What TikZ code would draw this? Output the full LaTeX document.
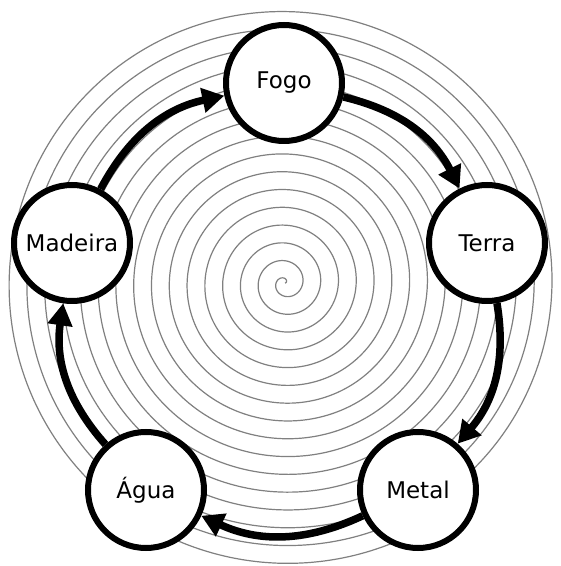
\documentclass[tikz,border=0pt]{standalone}
\usepackage{fontspec}
\setmainfont{DejaVu Sans}
\usetikzlibrary{arrows.meta}
\definecolor{ink}{HTML}{000000}
\definecolor{spiralgray}{HTML}{808080}
\definecolor{paper}{HTML}{FFFFFF}

\begin{document}
\begin{tikzpicture}[x=1pt,y=1pt,
    element/.style={circle,draw=ink,fill=paper,line width=6pt,minimum size=116pt,
      inner sep=0pt,font=\fontsize{23}{26}\selectfont},
    cyclearrow/.style={draw=ink,line width=7.5pt,-{Triangle[length=22pt,width=24pt]},bend left=25}]
  \useasboundingbox[fill=paper] (0,0) rectangle (561,566);

  % spiral in the background
  \begin{scope}
    \clip (0,0) rectangle (561,566);
    \draw[spiralgray,line width=1.2pt]
      plot[domain=0:5700,samples=1800,smooth] ({285+cos(\x)*\x/360*17.8},{283+sin(\x)*\x/360*17.8});
  \end{scope}

  % the five elements
  \node[element] (fogo)    at (284,483) {Fogo};
  \node[element] (terra)   at (487,323) {Terra};
  \node[element] (metal)   at (418,76)  {Metal};
  \node[element] (agua)    at (146,76)  {Água};
  \node[element] (madeira) at (72,323)  {Madeira};

  \draw[cyclearrow] (fogo) to (terra);
  \draw[cyclearrow] (terra) to (metal);
  \draw[cyclearrow] (metal) to (agua);
  \draw[cyclearrow] (agua) to (madeira);
  \draw[cyclearrow] (madeira) to (fogo);
\end{tikzpicture}
\end{document}
